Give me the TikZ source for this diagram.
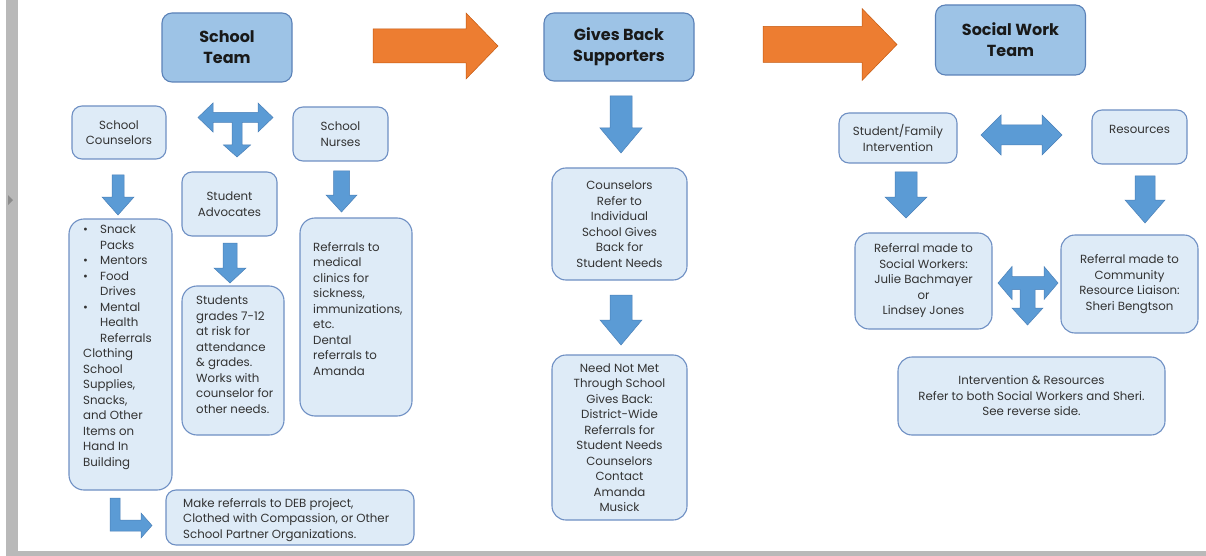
\documentclass[tikz,border=0pt]{standalone}
\usepackage{fontspec}
\setmainfont{Poppins}
\definecolor{pale}{HTML}{DEEBF7}
\definecolor{paleline}{HTML}{6F90C4}
\definecolor{topfill}{HTML}{9DC3E6}
\definecolor{topline}{HTML}{5B82B8}
\definecolor{arrfill}{HTML}{5B9BD5}
\definecolor{arrline}{HTML}{4A80B8}
\definecolor{orfill}{HTML}{ED7D31}
\definecolor{orline}{HTML}{C55A11}
\definecolor{txt}{HTML}{333333}
\definecolor{frame}{HTML}{B9B9B9}
\newcommand{\dnarr}[6]{%
  \filldraw[blk] (#1-#5,#2) -- (#1+#5,#2) -- (#1+#5,#3) -- (#1+#6,#3) -- (#1,#4) -- (#1-#6,#3) -- (#1-#5,#3) -- cycle;}
\newcommand{\rtarr}[6]{%
  \filldraw[orarr] (#1,#4-#5) -- (#2,#4-#5) -- (#2,#4-#6) -- (#3,#4) -- (#2,#4+#6) -- (#2,#4+#5) -- (#1,#4+#5) -- cycle;}
\tikzset{
  body/.style={font=\fontsize{11.8}{15.5}\selectfont, text=txt},
  pbox/.style={draw=paleline, fill=pale, line width=1.1pt, rounded corners=10pt, inner sep=0pt, align=center, body},
  tbox/.style={draw=topline, fill=topfill, line width=1.1pt, rounded corners=10pt, inner sep=0pt, align=center,
    font=\fontsize{16}{21}\selectfont\bfseries, text=black!90},
  blk/.style={fill=arrfill, draw=arrline, line width=0.5pt},
  orarr/.style={fill=orfill, draw=orline, line width=0.5pt},
  ltext/.style={body, align=left, inner sep=0pt, anchor=north west},
}
\begin{document}
\begin{tikzpicture}[x=1pt,y=-1pt]
\useasboundingbox (0,0) rectangle (1206,556);
% frame
\fill[white] (0,0) rectangle (1206,556);
\fill[frame] (6,0) rectangle (18,556);
\fill[frame] (6,551) rectangle (1206,556);
\fill[black!45] (8,195) -- (13,200) -- (8,205) -- cycle;

% top row
\node[tbox, minimum width=130pt, minimum height=69pt] (team1) at (227,47.5) {School\\Team};
\node[tbox, minimum width=150pt, minimum height=68pt] (team2) at (619,47) {Gives Back\\Supporters};
\node[tbox, minimum width=150pt, minimum height=70pt] (team3) at (1010.5,40) {Social Work\\Team};
\rtarr{373}{466}{498}{46}{17}{33}
\rtarr{763}{862}{897}{44.5}{18}{36}

% left column
\node[pbox, minimum width=94pt, minimum height=53pt] (couns) at (119,132.5) {School\\Counselors};
\node[pbox, minimum width=95pt, minimum height=54pt] (nurses) at (340.5,134) {School\\Nurses};
\node[pbox, minimum width=95pt, minimum height=64pt] (advoc) at (229.5,204) {Student\\Advocates};
\node[pbox, rounded corners=15pt, minimum width=103pt, minimum height=271pt] (list) at (120.5,354.5) {};
\node[ltext] (listtext) at (83,225) {\makebox[17pt][l]{•}Snack\\
\hspace*{17pt}Packs\\
\makebox[17pt][l]{•}Mentors\\
\makebox[17pt][l]{•}Food\\
\hspace*{17pt}Drives\\
\makebox[17pt][l]{•}Mental\\
\hspace*{17pt}Health\\
\hspace*{17pt}Referrals\\
Clothing\\
School\\
Supplies,\\
Snacks,\\
and Other\\
Items on\\
Hand In\\
Building};
\node[pbox, rounded corners=15pt, minimum width=102pt, minimum height=149pt] (grades) at (233,360.5) {};
\node[ltext] (gradestext) at (196,296) {Students\\grades 7-12\\at risk for\\attendance\\\& grades.\\Works with\\counselor for\\other needs.};
\node[pbox, rounded corners=15pt, minimum width=112pt, minimum height=198pt] (refmed) at (356,317) {};
\node[ltext] (refmedtext) at (313,242) {Referrals to\\medical\\clinics for\\sickness,\\immunizations,\\etc.\\Dental\\referrals to\\Amanda};
\node[pbox, minimum width=248pt, minimum height=55pt] (deb) at (290,517.5) {};
\node[ltext] (debtext) at (183,498) {Make referrals to DEB project,\\Clothed with Compassion, or Other\\School Partner Organizations.};

\filldraw[blk] (198,117.5) -- (213,103) -- (213,112.5) -- (258,112.5) -- (258,103) -- (273,117.5) -- (258,132) -- (258,122.5)
  -- (242,122.5) -- (242,145) -- (250.5,145) -- (237,157) -- (223.5,145) -- (232,145) -- (232,122.5) -- (213,122.5) -- (213,132) -- cycle;
\dnarr{118}{175}{197}{215}{6}{16}
\dnarr{230}{243}{268}{283}{7}{16}
\dnarr{341.5}{171}{195}{212}{8}{15.5}
\filldraw[blk] (110,498) -- (120,498) -- (120,520) -- (141,520) -- (141,513) -- (152,525.5) -- (141,538) -- (141,531) -- (110,531) -- cycle;

% middle column
\node[pbox, rounded corners=14pt, minimum width=135pt, minimum height=112pt] (cref) at (619.5,224) {Counselors\\Refer to\\Individual\\School Gives\\Back for\\Student Needs};
\node[pbox, rounded corners=14pt, minimum width=135pt, minimum height=165pt] (need) at (619.5,437.5) {Need Not Met\\Through School\\Gives Back:\\District-Wide\\Referrals for\\Student Needs\\Counselors\\Contact\\Amanda\\Musick};
\dnarr{621}{96}{128}{153}{11}{21}
\dnarr{621}{295}{320}{345}{11}{21}

% right column
\node[pbox, minimum width=118pt, minimum height=50pt] (sfi) at (898,138) {Student/Family\\Intervention};
\node[pbox, minimum width=95pt, minimum height=54pt] (res) at (1139.5,137) {};
\node[body, inner sep=0pt] (restext) at (1139.5,129) {Resources};
\node[pbox, rounded corners=14pt, minimum width=137pt, minimum height=96pt] (rsw) at (923.5,281) {Referral made to\\Social Workers:\\Julie Bachmayer\\or\\Lindsey Jones};
\node[pbox, rounded corners=14pt, minimum width=137pt, minimum height=98pt] (rcr) at (1129.5,284) {Referral made to\\Community\\Resource Liaison:\\Sheri Bengtson};
\node[pbox, rounded corners=14pt, minimum width=267pt, minimum height=78pt] (ir) at (1031.5,396) {Intervention \& Resources\\Refer to both Social Workers and Sheri.\\See reverse side.};

\filldraw[blk] (981,135) -- (1001,115) -- (1001,125) -- (1042,125) -- (1042,115) -- (1062,135) -- (1042,155) -- (1042,145) -- (1001,145) -- (1001,155) -- cycle;
\dnarr{906}{172}{197}{218}{11}{21}
\dnarr{1145}{176}{200}{223}{10}{20}
\filldraw[blk] (998,283) -- (1012,266.5) -- (1012,276.5) -- (1044,276.5) -- (1044,266.5) -- (1058,283) -- (1044,299.5) -- (1044,289.5)
  -- (1035,289.5) -- (1035,308) -- (1043,308) -- (1027.5,325) -- (1012,308) -- (1020,308) -- (1020,289.5) -- (1012,289.5) -- (1012,299.5) -- cycle;
\end{tikzpicture}
\end{document}
